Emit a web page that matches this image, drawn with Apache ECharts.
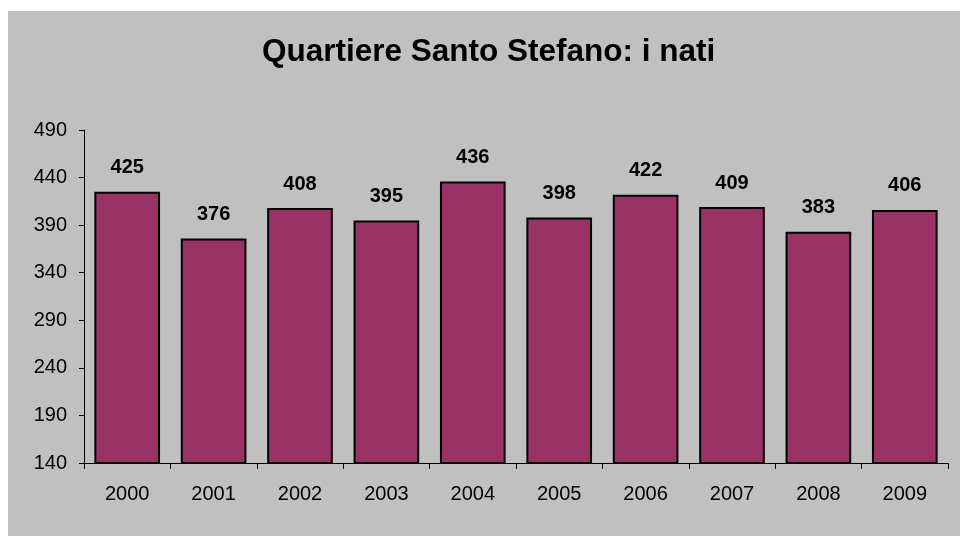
<!DOCTYPE html>
<html>
<head>
<meta charset="utf-8">
<script src="https://cdn.jsdelivr.net/npm/echarts@6/dist/echarts.min.js"></script>
<style>
  html, body { margin: 0; padding: 0; background: #ffffff; }
  #frame { position: absolute; left: 8px; top: 11px; width: 952px; height: 525px; background: #c0c0c0; }
  #chart { position: absolute; left: 0; top: 0; width: 960px; height: 536px; }
</style>
</head>
<body>
<div id="frame"></div>
<div id="chart"></div>
<script>
// Births per year in the Santo Stefano quarter
const years = ['2000', '2001', '2002', '2003', '2004', '2005', '2006', '2007', '2008', '2009'];
const births = [425, 376, 408, 395, 436, 398, 422, 409, 383, 406];
const yMin = 140;
const yMax = 490;
const yStep = 50;

const chart = echarts.init(document.getElementById('chart'), null, { renderer: 'canvas' });
const font = 'Arial, "Liberation Sans", sans-serif';

chart.setOption({
  backgroundColor: 'transparent',
  animation: false,
  title: {
    text: 'Quartiere Santo Stefano: i nati',
    left: 262,
    top: 36,
    padding: 0,
    textStyle: { fontFamily: font, fontSize: 31.5, fontWeight: 'bold', color: '#000' }
  },
  grid: { left: 84, right: 12, top: 130, bottom: 73, containLabel: false },
  xAxis: {
    type: 'category',
    data: years,
    axisLine: { lineStyle: { color: '#000', width: 1 } },
    axisTick: { show: true, length: 6, alignWithLabel: false, lineStyle: { color: '#000' } },
    axisLabel: { margin: 21, fontFamily: font, fontSize: 20, color: '#000' }
  },
  yAxis: {
    type: 'value',
    min: yMin,
    max: yMax,
    interval: yStep,
    splitLine: { show: false },
    axisLine: { show: true, lineStyle: { color: '#000', width: 1 } },
    axisTick: { show: true, length: 5, lineStyle: { color: '#000' } },
    axisLabel: { margin: 17, fontFamily: font, fontSize: 20, color: '#000' }
  },
  series: [{
    type: 'bar',
    data: births,
    barCategoryGap: '24%',
    itemStyle: { color: '#993366', borderColor: '#000', borderWidth: 2 },
    label: {
      show: true,
      position: 'top',
      distance: 14,
      fontFamily: font,
      fontSize: 20,
      fontWeight: 'bold',
      color: '#000'
    }
  }]
});
</script>
</body>
</html>
